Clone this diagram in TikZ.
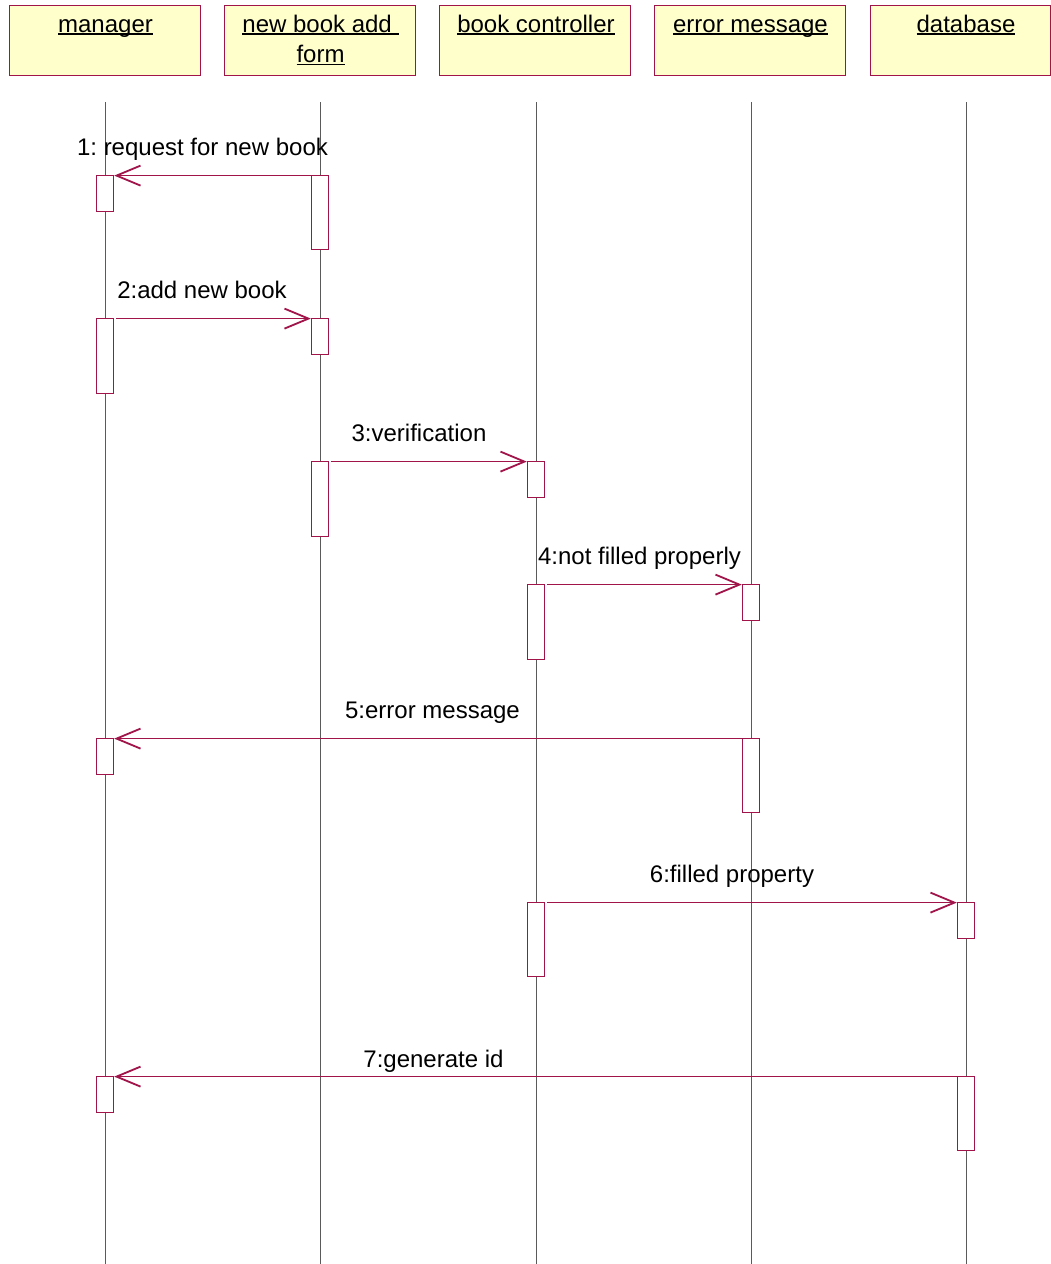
\documentclass[tikz,border=0pt]{standalone}
\usepackage{fontspec}
\setmainfont{Liberation Sans}
\usetikzlibrary{arrows.meta}
\definecolor{umlred}{HTML}{A0144A}
\definecolor{hdrfill}{HTML}{FFFFCC}
\definecolor{lifegray}{HTML}{5A5A5A}
\newcommand\ulbox[1]{\setbox0=\hbox{#1}\rlap{\copy0}\rule[-2.6pt]{\wd0}{1.3pt}}
\frenchspacing
\begin{document}
\begin{tikzpicture}[x=1pt,y=-1pt,
  font=\fontsize{24}{28}\selectfont\frenchspacing,
  hdr/.style={draw=umlred, line width=1pt, fill=hdrfill, minimum width=191pt, minimum height=70pt, inner sep=0pt},
  act/.style={draw=umlred, line width=0.8pt, fill=white, minimum width=17.6pt, inner sep=0pt},
  life/.style={draw=lifegray, line width=0.8pt},
  msg/.style={draw=umlred, line width=0.9pt, -{Straight Barb[length=24pt,width=20pt,line width=1.8pt]}},
  lbl/.style={anchor=base, inner sep=0pt}]
\useasboundingbox (0,0) rectangle (1051,1264);
\fill[white] (0,0) rectangle (1051,1264);
% headers
\node[hdr] (manager) at (104.5,40) {};
\node[hdr] (form) at (319.5,40) {};
\node[hdr] (ctrl) at (535,40) {};
\node[hdr] (err) at (750,40) {};
\node[hdr, minimum width=180pt] (db) at (960,40) {};
\node[lbl] (tm) at (105.5,32) {\ulbox{manager}};
\node[lbl] (tf1) at (320.5,32) {\ulbox{new book add\ }};
\node[lbl] (tf2) at (320.5,62.5) {\ulbox{form}};
\node[lbl] (tc) at (536,32) {\ulbox{book controller}};
\node[lbl] (te) at (750.5,32) {\ulbox{error message}};
\node[lbl] (td) at (966,32) {\ulbox{database}};
% lifelines
\coordinate (Lm) at (105,102); \coordinate (Lmb) at (105,1264);
\coordinate (Lf) at (320,102); \coordinate (Lfb) at (320,1264);
\coordinate (Lc) at (536,102); \coordinate (Lcb) at (536,1264);
\coordinate (Le) at (751,102); \coordinate (Leb) at (751,1264);
\coordinate (Ld) at (966,102); \coordinate (Ldb) at (966,1264);
\draw[life] (Lm) -- (Lmb);
\draw[life] (Lf) -- (Lfb);
\draw[life] (Lc) -- (Lcb);
\draw[life] (Le) -- (Leb);
\draw[life] (Ld) -- (Ldb);
% activations
\node[act, minimum height=36pt] (m1) at (105,193) {};
\node[act, minimum height=74pt] (f1) at (320,212) {};
\node[act, minimum height=75pt] (m2) at (105,355.5) {};
\node[act, minimum height=36pt] (f2) at (320,336) {};
\node[act, minimum height=75pt] (f3) at (320,498.5) {};
\node[act, minimum height=36pt] (c3) at (536,479) {};
\node[act, minimum height=75pt] (c4) at (536,621.5) {};
\node[act, minimum height=36pt] (e4) at (751,602) {};
\node[act, minimum height=36pt] (m5) at (105,756) {};
\node[act, minimum height=74pt] (e5) at (751,775) {};
\node[act, minimum height=74pt] (c6) at (536,939) {};
\node[act, minimum height=36pt] (d6) at (966,920) {};
\node[act, minimum height=36pt] (m7) at (105,1094) {};
\node[act, minimum height=74pt] (d7) at (966,1113) {};
% messages
\draw[msg] ([yshift=-1pt]f1.north west) -- ([yshift=-1pt]m1.north east);
\draw[msg] ([xshift=2pt,yshift=-1pt]m2.north east) -- ([yshift=-1pt]f2.north west);
\draw[msg] ([xshift=2pt,yshift=-1pt]f3.north east) -- ([yshift=-1pt]c3.north west);
\draw[msg] ([xshift=2pt,yshift=-1pt]c4.north east) -- ([yshift=-1pt]e4.north west);
\draw[msg] ([yshift=-1pt]e5.north west) -- ([yshift=-1pt]m5.north east);
\draw[msg] ([xshift=2pt,yshift=-1pt]c6.north east) -- ([yshift=-1pt]d6.north west);
\draw[msg] ([yshift=-1pt]d7.north west) -- ([yshift=-1pt]m7.north east);
% labels
\node[lbl] (l1) at (202.5,155.5) {1: request for new book};
\node[lbl] (l2) at (202,298.5) {2:add new book};
\node[lbl] (l3) at (419,441.5) {3:verification};
\node[lbl] (l4) at (639.5,564.5) {4:not filled properly};
\node[lbl] (l5) at (432.5,718.5) {5:error message};
\node[lbl] (l6) at (732,882.5) {6:filled property};
\node[lbl] (l7) at (433.5,1067) {7:generate id};
\end{tikzpicture}
\end{document}
